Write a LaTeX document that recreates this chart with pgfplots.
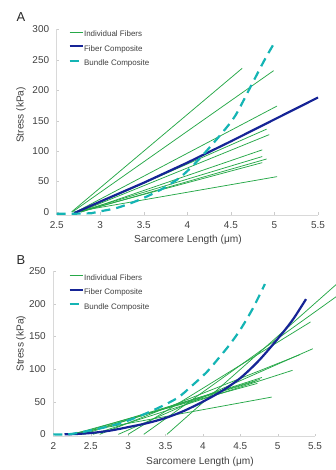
\documentclass[border=0pt]{standalone}
\usepackage{fontspec}
\setmainfont{Liberation Sans}
\usepackage{pgfplots}
\pgfplotsset{compat=1.18}
\definecolor{fib}{RGB}{38,168,72}
\definecolor{navyc}{RGB}{22,36,150}
\definecolor{tealc}{RGB}{20,180,180}
\definecolor{txt}{RGB}{64,64,64}
\pgfplotsset{
  common/.style={
    scale only axis, anchor=south west, clip=false,
    axis x line=bottom, axis y line=left,
    axis line style={-, draw=black!15, line width=0.6bp},
    tick align=inside, major tick length=2.5bp,
    tick style={draw=black!20},
    ticklabel style={font=\fontsize{10}{12}\selectfont, text=txt},
    /pgf/number format/assume math mode=true,
    xticklabel style={inner sep=0pt, yshift=-6.4bp},
    yticklabel style={inner sep=0pt, xshift=-7.4bp},
    legend cell align=left,
    legend image code/.code={\draw[##1] (0bp,2.7bp) -- (13.4bp,2.7bp);},
    legend style={at={(axis description cs:0,1)}, anchor=north west,
      draw=none, fill=none, inner sep=0pt, row sep=6.9bp,
      font=\fontsize{8}{9}\selectfont, text=txt,
      nodes={inner sep=0pt, text height=6bp, text depth=1.5bp},
      /tikz/every even column/.append style={column sep=5.6bp}},
  },
  fibst/.style={fib, line width=0.75bp},
  navst/.style={navyc, line width=2.2bp},
  teast/.style={tealc, line width=2.2bp, dash pattern=on 9bp off 6bp},
}
\begin{document}
\begin{tikzpicture}
\useasboundingbox (0,0) rectangle (336bp,470bp);
% ---------------- Panel A ----------------
\begin{axis}[common, at={(56.7bp,255bp)}, width=261.3bp, height=185.7bp,
  xmin=2.5, xmax=5.5, ymin=-5, ymax=300,
  xtick={2.5,3,3.5,4,4.5,5,5.5}, ytick={0,50,100,150,200,250,300},
  legend style={xshift=11.6bp, yshift=-1.4bp}]
\addplot[fibst] coordinates {(2.67,0) (4.63,236)};
\addlegendentry{Individual Fibers}
\addplot[fibst, forget plot] coordinates {(2.68,0) (4.99,232)};
\addplot[fibst, forget plot] coordinates {(2.72,0) (5.03,174)};
\addplot[fibst, forget plot] coordinates {(2.75,0) (4.91,136)};
\addplot[fibst, forget plot] coordinates {(2.76,0) (4.94,127)};
\addplot[fibst, forget plot] coordinates {(2.78,0) (4.86,102)};
\addplot[fibst, forget plot] coordinates {(2.75,0) (4.86,91)};
\addplot[fibst, forget plot] coordinates {(2.78,0) (4.91,87)};
\addplot[fibst, forget plot] coordinates {(2.75,0) (4.86,81)};
\addplot[fibst, forget plot] coordinates {(2.70,0) (5.03,58)};
\addplot[navst] coordinates {(2.7,-2) (3.0,17) (3.5,48) (4.0,81) (4.5,116) (5.0,152) (5.5,188)};
\addlegendentry{Fiber Composite}
\addplot[teast, smooth] coordinates {(2.5,-3) (2.65,-3) (2.9,-2) (3.0,1) (3.2,7) (3.45,20) (3.7,37) (3.9,55) (4.05,74) (4.2,97) (4.4,130) (4.55,158) (4.72,204) (4.88,248) (5.0,278)};
\addlegendentry{Bundle Composite}
\end{axis}
% ---------------- Panel B ----------------
\begin{axis}[common, at={(53.3bp,33.7bp)}, width=261.7bp, height=165.3bp,
  xmin=2, xmax=5.5, ymin=-3, ymax=250,
  xtick={2,2.5,3,3.5,4,4.5,5,5.5}, ytick={0,50,100,150,200,250},
  legend style={xshift=15bp, yshift=-3bp}]
\addplot[fibst] coordinates {(3.52,0) (5.8,231)};
\addlegendentry{Individual Fibers}
\addplot[fibst, forget plot] coordinates {(3.21,0) (5.8,212)};
\addplot[fibst, forget plot] coordinates {(3.0,0) (5.44,172)};
\addplot[fibst, forget plot] coordinates {(2.87,0) (5.47,131)};
\addplot[fibst, forget plot] coordinates {(2.62,0) (5.30,122)};
\addplot[fibst, forget plot] coordinates {(2.53,0) (5.20,98)};
\addplot[fibst, forget plot] coordinates {(2.40,0) (4.79,87)};
\addplot[fibst, forget plot] coordinates {(2.30,0) (4.76,84)};
\addplot[fibst, forget plot] coordinates {(2.25,0) (4.73,78)};
\addplot[fibst, forget plot] coordinates {(2.35,0) (4.70,81)};
\addplot[fibst, forget plot] coordinates {(2.20,0) (4.92,57)};
\addplot[navst, smooth] coordinates {(2.15,0) (2.3,0.5) (2.5,2) (2.75,5.5) (3.0,11) (3.25,17) (3.5,25) (3.75,36) (4.0,50) (4.25,66) (4.5,86) (4.75,113) (5.0,146) (5.2,175) (5.38,207)};
\addlegendentry{Fiber Composite}
\addplot[teast, smooth] coordinates {(2.0,0) (2.2,0) (2.5,6) (2.9,17) (3.3,35) (3.65,55) (3.85,74) (4.05,95) (4.2,115) (4.35,136) (4.5,160) (4.67,193) (4.83,230)};
\addlegendentry{Bundle Composite}
\end{axis}
% ---------------- labels ----------------
\node[font=\fontsize{13}{13}\selectfont, text=black!85] at (21bp,452.5bp) {A};
\node[font=\fontsize{13}{13}\selectfont, text=black!85] at (21bp,210bp) {B};
\node[font=\fontsize{10.2}{12}\selectfont, text=txt] at (188bp,230bp) {Sarcomere Length (μm)};
\node[font=\fontsize{10.2}{12}\selectfont, text=txt] at (200bp,8bp) {Sarcomere Length (μm)};
\node[font=\fontsize{10.2}{12}\selectfont, text=txt, rotate=90] at (21bp,355bp) {Stress (kPa)};
\node[font=\fontsize{10.2}{12}\selectfont, text=txt, rotate=90] at (21bp,126.3bp) {Stress (kPa)};
\end{tikzpicture}
\end{document}
